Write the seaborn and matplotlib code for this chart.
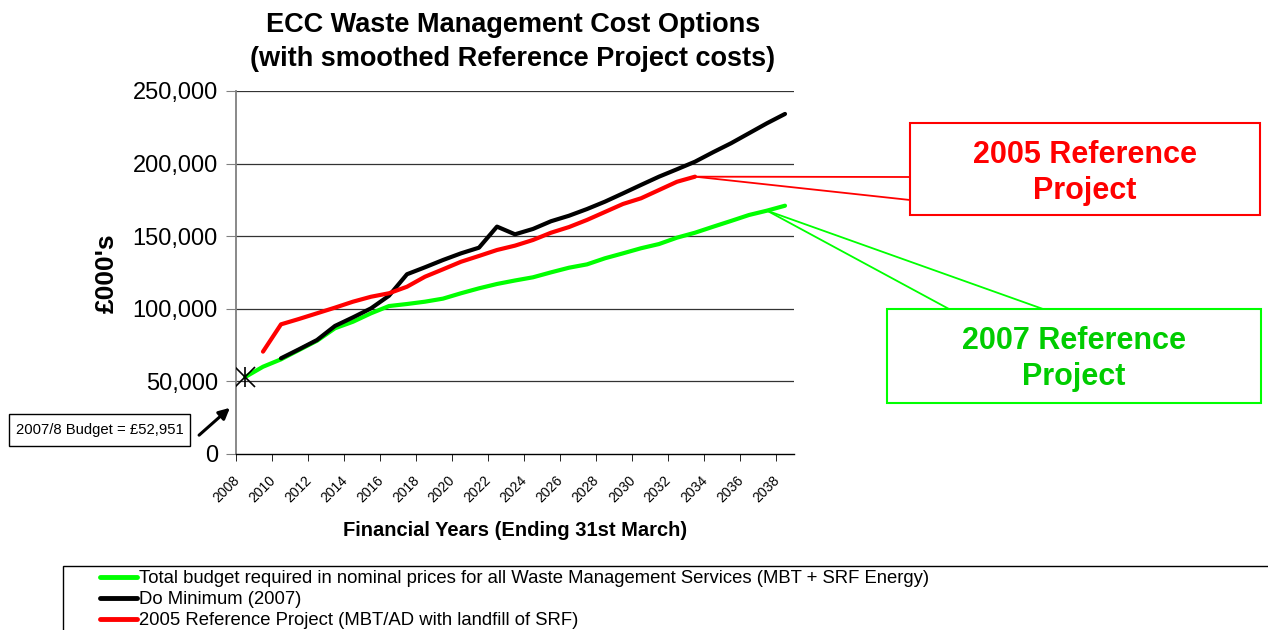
import pandas as pd
import numpy as np
import matplotlib
matplotlib.use("Agg")
import matplotlib.pyplot as plt
import matplotlib.transforms as mtransforms
import seaborn as sns
from matplotlib.lines import Line2D
from matplotlib.patches import Rectangle, FancyArrowPatch

years = list(range(2008, 2039))

total_budget = [52951, 60100, 65200, 71600, 78000, 86600, 91100, 96900, 101900, 103300,
                104900, 107000, 110700, 114100, 117100, 119500, 121700, 125100, 128300, 130600,
                134800, 138200, 141700, 144600, 149000, 152400, 156500, 160500, 164600, 167600,
                171000]
do_min_years = list(range(2010, 2039))
do_minimum = [65900, 72100, 78500, 88200, 94100, 100300, 109000, 123800, 128600, 133600,
              138200, 142100, 156600, 151300, 155000, 160300, 164100, 168700, 173800, 179500,
              185300, 191000, 196100, 201300, 207800, 214000, 220900, 227800, 234200]
ref2005_years = list(range(2009, 2034))
ref2005 = [70500, 89300, 93000, 96900, 100800, 104900, 108300, 110700, 115200, 122100,
           127200, 132400, 136400, 140500, 143500, 147400, 152400, 156300, 161200, 166700,
           172200, 176100, 181800, 187500, 191000]

budget_0708 = 52951
tick_years = list(range(2008, 2039, 2))

labels = ["Total budget required in nominal prices for all Waste Management Services (MBT + SRF Energy)",
          "Do Minimum (2007)",
          "2005 Reference Project (MBT/AD with landfill of SRF)"]
colors = ["#00FF00", "#000000", "#FF0000"]

df = pd.concat([
    pd.DataFrame({"year": years, "cost": total_budget, "series": labels[0]}),
    pd.DataFrame({"year": do_min_years, "cost": do_minimum, "series": labels[1]}),
    pd.DataFrame({"year": ref2005_years, "cost": ref2005, "series": labels[2]}),
])

sns.set_style("white")
plt.rcParams['font.family'] = ['Liberation Sans', 'DejaVu Sans']
plt.rcParams['text.color'] = 'black'
plt.rcParams['axes.labelcolor'] = 'black'
plt.rcParams['xtick.color'] = 'black'
plt.rcParams['ytick.color'] = 'black'

W, H = 1268, 630
fig = plt.figure(figsize=(W / 100, H / 100), dpi=100)
ax = fig.add_axes([236 / W, 1 - 454 / H, 558 / W, 363 / H])

def fx(px):
    return px / W

def fy(py):
    return 1 - py / H

for y in [50000, 100000, 150000, 200000, 250000]:
    ax.axhline(y, color="#333333", lw=0.9, zorder=0)

sns.lineplot(data=df, x="year", y="cost", hue="series", hue_order=labels,
             palette=colors, linewidth=3, legend=False, ax=ax, zorder=3)

# 2007/8 budget marker
ax.plot([2008], [budget_0708], marker="x", ms=14, mew=1.2, color="black", zorder=4)
ax.plot([2008], [budget_0708], marker="|", ms=14, mew=1.2, color="black", zorder=4)

yt = [0, 50000, 100000, 150000, 200000, 250000]
ax.set_yticks(yt)
ax.set_yticklabels([f"{v:,}" for v in yt], fontsize=17)
ax.set_xticks([])
ax.set_xticks([2007.5 + 2 * k for k in range(16)], minor=True)
ax.tick_params(axis="x", which="minor", length=5, direction="out", color="black", bottom=True)
ax.tick_params(axis="y", length=7, direction="out", pad=6, left=True, color="#808080")
ax.set_xlim(2007.5, 2038.5)
ax.set_ylim(0, 250000)

# rotated year labels, ending just left of each category like Excel draws them
lab_tr = mtransforms.blended_transform_factory(ax.transData, ax.transAxes) + \
    mtransforms.ScaledTranslation(-8 / 100, -24 / 100, fig.dpi_scale_trans)
for yr in tick_years:
    ax.text(yr, 0, str(yr), transform=lab_tr, rotation=45, ha="right", va="center",
            rotation_mode="anchor", fontsize=10)

for s in ["top", "right"]:
    ax.spines[s].set_visible(False)
ax.spines["left"].set_color("#808080")
ax.spines["left"].set_linewidth(1.3)
ax.spines["bottom"].set_color("black")
ax.spines["bottom"].set_linewidth(1.0)

ax.set_xlabel("")
ax.set_ylabel("")
fig.text(fx(515), fy(530), "Financial Years (Ending 31st March)", fontsize=14.5,
         fontweight="bold", ha="center", va="center")
fig.text(fx(107), fy(273), "£000's", rotation=90, fontsize=19, fontweight="bold",
         ha="center", va="center")

fig.text(fx(513), fy(42), "ECC Waste Management Cost Options\n(with smoothed Reference Project costs)",
         ha="center", va="center", fontsize=19.5, fontweight="bold", linespacing=1.45)

# callout: 2005 reference project
fig.add_artist(Rectangle((fx(910), fy(215)), fx(1260) - fx(910), fy(123) - fy(215),
                         transform=fig.transFigure, fill=False, edgecolor="#FF0000", lw=1.5))
fig.text(fx(1085), fy(173), "2005 Reference\nProject", ha="center", va="center",
         fontsize=22, fontweight="bold", color="#FF0000", linespacing=1.3)
for py in [177, 200]:
    ax.annotate("", xy=(fx(910), fy(py)), xycoords="figure fraction",
                xytext=(ref2005_years[-1], ref2005[-1]), textcoords="data",
                arrowprops=dict(arrowstyle="-", color="#FF0000", lw=1.3, shrinkA=0, shrinkB=0),
                annotation_clip=False)

# callout: 2007 reference project
fig.add_artist(Rectangle((fx(887), fy(403)), fx(1261) - fx(887), fy(309) - fy(403),
                         transform=fig.transFigure, fill=False, edgecolor="#00FF00", lw=1.5))
fig.text(fx(1074), fy(359), "2007 Reference\nProject", ha="center", va="center",
         fontsize=22, fontweight="bold", color="#00CC00", linespacing=1.3)
for px in [949, 1043]:
    ax.annotate("", xy=(fx(px), fy(309)), xycoords="figure fraction",
                xytext=(2037, total_budget[years.index(2037)]), textcoords="data",
                arrowprops=dict(arrowstyle="-", color="#00FF00", lw=1.3, shrinkA=0, shrinkB=0),
                annotation_clip=False)

# budget box and arrow
fig.add_artist(Rectangle((fx(9), fy(446)), fx(190) - fx(9), fy(414) - fy(446),
                         transform=fig.transFigure, fill=False, edgecolor="black", lw=1.0))
fig.text(fx(100), fy(430), "2007/8 Budget = £52,951", ha="center", va="center", fontsize=10.7)
fig.add_artist(FancyArrowPatch((fx(197), fy(437)), (fx(232), fy(406)),
                               transform=fig.transFigure, arrowstyle="-|>",
                               mutation_scale=16, lw=2.2, color="black"))

# legend
fig.add_artist(Rectangle((fx(63), fy(680)), fx(1320) - fx(63), fy(566) - fy(680),
                         transform=fig.transFigure, fill=False, edgecolor="black", lw=1.0))
handles = [Line2D([0], [0], color=c, lw=3.5) for c in colors]
fig.legend(handles, labels, loc="upper left", bbox_to_anchor=(fx(100), fy(570)),
           frameon=False, fontsize=13.3, handlelength=2.0, handletextpad=0.1,
           labelspacing=0.22, borderpad=0, borderaxespad=0)

fig.savefig("out.png", dpi=100)
